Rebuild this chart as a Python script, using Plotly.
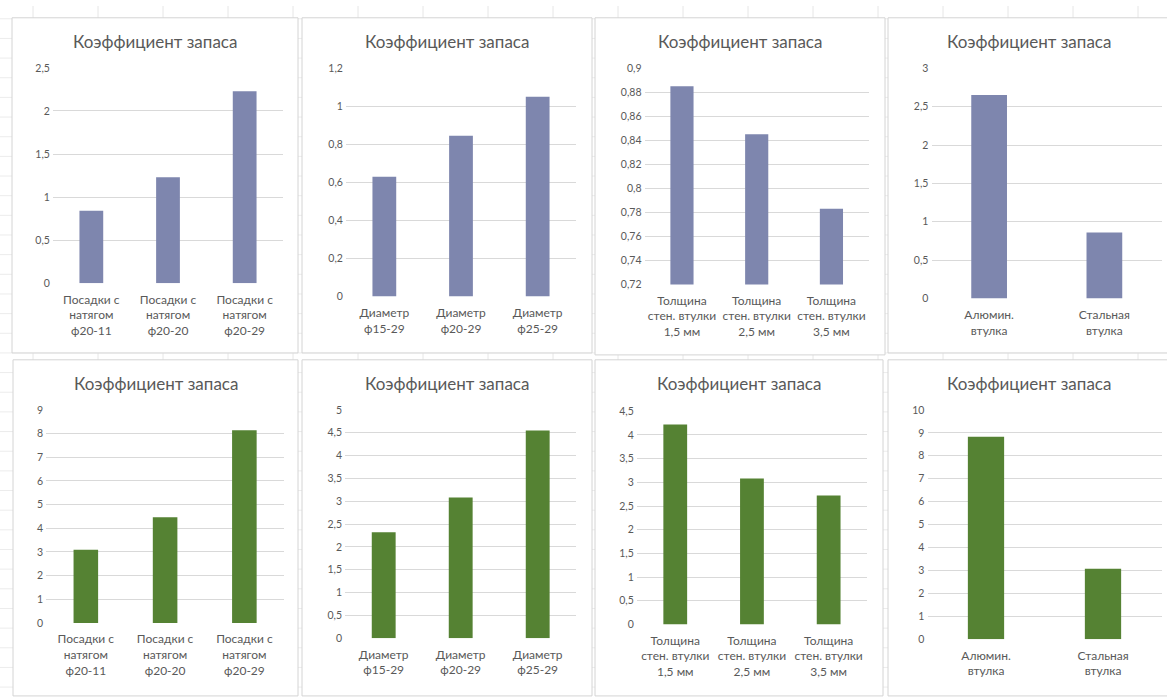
import plotly.graph_objects as go

# --- data -------------------------------------------------------------
title_text = "Коэффициент запаса"

cats_fit = ["Посадки с<br>натягом<br>ф20-11", "Посадки с<br>натягом<br>ф20-20", "Посадки с<br>натягом<br>ф20-29"]
cats_diam = ["Диаметр<br>ф15-29", "Диаметр<br>ф20-29", "Диаметр<br>ф25-29"]
cats_wall = ["Толщина<br>стен. втулки<br>1,5 мм", "Толщина<br>стен. втулки<br>2,5 мм", "Толщина<br>стен. втулки<br>3,5 мм"]
cats_mat = ["Алюмин.<br>втулка", "Стальная<br>втулка"]

fit_top = [0.84, 1.23, 2.23]
diam_top = [0.63, 0.845, 1.05]
wall_top = [0.885, 0.845, 0.783]
mat_top = [2.65, 0.86]

fit_bot = [3.09, 4.47, 8.14]
diam_bot = [2.32, 3.08, 4.55]
wall_bot = [4.22, 3.08, 2.72]
mat_bot = [8.83, 3.07]

# axis ranges and tick steps
ranges_top = [(0, 2.5, 0.5), (0, 1.2, 0.2), (0.72, 0.9, 0.02), (0, 3, 0.5)]
ranges_bot = [(0, 9, 1), (0, 5, 0.5), (0, 4.5, 0.5), (0, 10, 1)]

# --- layout geometry (pixels) -------------------------------------------
W, H = 1167, 698
BLUE = "#7e86ae"
GREEN = "#558233"
GRID = "#d9d9d9"
TXT = "#595959"
FONT = "Lato, 'Noto Sans', sans-serif"

# plot areas: (x0, x1, y_top, y_bottom)
plot_boxes = [
    (53, 283, 63, 282),
    (346, 576, 63.3, 295.7),
    (644.6, 868.8, 63.3, 283.3),
    (931.5, 1162, 63.3, 297.7),
    (46.2, 284, 411, 627.7),
    (345.2, 576.2, 411, 643.3),
    (636.9, 867, 412.3, 629.3),
    (927.5, 1161.5, 411, 644.3),
]
# chart panels: (x0, x1, y0, y1)
panels = [
    (12, 298, 12, 353), (302, 592, 12, 353), (595, 885, 12, 355), (888, 1170, 12, 353),
    (13, 298, 360, 702), (302, 592, 360, 702), (595, 883, 360, 702), (888, 1170, 360, 702),
]

charts = [
    (cats_fit, fit_top, BLUE, ranges_top[0]),
    (cats_diam, diam_top, BLUE, ranges_top[1]),
    (cats_wall, wall_top, BLUE, ranges_top[2]),
    (cats_mat, mat_top, BLUE, ranges_top[3]),
    (cats_fit, fit_bot, GREEN, ranges_bot[0]),
    (cats_diam, diam_bot, GREEN, ranges_bot[1]),
    (cats_wall, wall_bot, GREEN, ranges_bot[2]),
    (cats_mat, mat_bot, GREEN, ranges_bot[3]),
]


def px_x(v):
    return v / W


def px_y(v):
    return 1 - v / H


fig = go.Figure()
shapes = []
annotations = []

# faint worksheet grid behind the chart panels
for gy in range(13, H, 20):
    shapes.append(dict(type="line", xref="paper", yref="paper", x0=0, x1=1,
                       y0=px_y(gy), y1=px_y(gy), line=dict(color="#ececec", width=1), layer="below"))
for gx in range(33, W, 65):
    shapes.append(dict(type="line", xref="paper", yref="paper", x0=px_x(gx), x1=px_x(gx),
                       y0=0, y1=1, line=dict(color="#e6e6e6", width=1), layer="below"))

for i, ((cats, vals, color, (lo, hi, step)), box, pan) in enumerate(zip(charts, plot_boxes, panels), start=1):
    # panel frame
    shapes.append(dict(type="rect", xref="paper", yref="paper",
                       x0=px_x(pan[0]), x1=px_x(pan[1]), y0=px_y(pan[3]), y1=px_y(pan[2]),
                       fillcolor="white", line=dict(color="#d4d4d4", width=1), layer="below"))
    # chart title
    annotations.append(dict(text=title_text, xref="paper", yref="paper",
                            x=px_x((pan[0] + pan[1]) / 2), y=px_y(pan[2] + 24),
                            xanchor="center", yanchor="middle", showarrow=False,
                            font=dict(family=FONT, size=17, color=TXT)))

    xa = "x" if i == 1 else f"x{i}"
    ya = "y" if i == 1 else f"y{i}"
    fig.add_trace(go.Bar(x=cats, y=vals, xaxis=xa, yaxis=ya, width=[0.31] * len(cats),
                         marker=dict(color=color, line=dict(width=0)),
                         showlegend=False, hoverinfo="x+y"))

    x0, x1, yt, yb = box
    key = "" if i == 1 else str(i)
    fig.layout[f"xaxis{key}"] = dict(
        domain=[px_x(x0), px_x(x1)], anchor=ya, type="category",
        range=[-0.5, len(cats) - 0.5], showgrid=False, zeroline=False, showline=False,
        ticks="outside", ticklen=5, tickcolor="rgba(0,0,0,0)",
        tickfont=dict(family=FONT, size=12, color=TXT), fixedrange=True,
    )
    fig.layout[f"yaxis{key}"] = dict(
        domain=[px_y(yb), px_y(yt)], anchor=xa, range=[lo, hi], dtick=step, tick0=lo,
        showgrid=True, gridcolor=GRID, gridwidth=1, zeroline=False, showline=False,
        ticks="outside", ticklen=0, tickcolor="rgba(0,0,0,0)",
        tickfont=dict(family=FONT, size=10.5, color=TXT), fixedrange=True,
    )

fig.update_layout(
    width=W, height=H, margin=dict(l=0, r=0, t=0, b=0),
    paper_bgcolor="white", plot_bgcolor="rgba(0,0,0,0)",
    separators=", ", shapes=shapes, annotations=annotations,
    font=dict(family=FONT, color=TXT),
)

fig.write_html("out.html", config={"displayModeBar": False})
